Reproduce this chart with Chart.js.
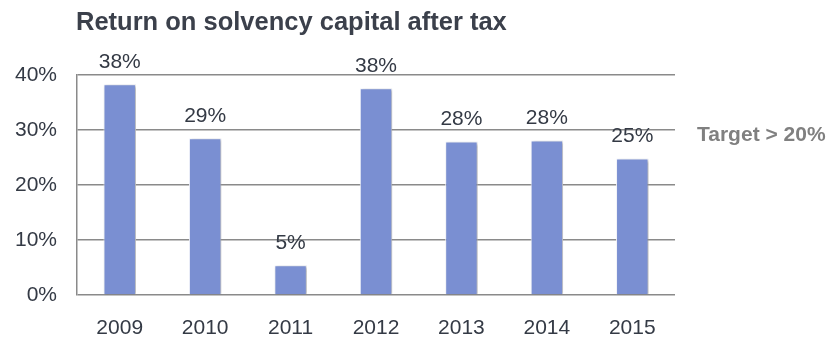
<!DOCTYPE html>
<html>
<head>
<meta charset="utf-8">
<script src="https://cdn.jsdelivr.net/npm/chart.js@4.4.0/dist/chart.umd.min.js"></script>
<style>
  html, body { margin: 0; padding: 0; background: #fff; }
  #wrap { width: 832px; height: 337px; }
</style>
</head>
<body>
<div id="wrap"><canvas id="roscChart" width="832" height="337"></canvas></div>
<script>
const years = ['2009', '2010', '2011', '2012', '2013', '2014', '2015'];
const rosc = [38.3, 28.5, 5.4, 37.6, 27.9, 28.1, 24.8];
const yTicks = [0, 10, 20, 30, 40];

const chartTitle = 'Return on solvency capital after tax';
const targetNote = 'Target > 20%';

const FONT = '"Liberation Sans", Arial, sans-serif';

// title, target note and value labels
const textPlugin = {
    id: 'roscText',
    afterDatasetsDraw(chart) {
        const ctx = chart.ctx;
        const area = chart.chartArea;
        const meta = chart.getDatasetMeta(0);
        ctx.save();
        ctx.shadowColor = 'transparent';
        ctx.font = 'bold 25.5px ' + FONT;
        ctx.fillStyle = '#3b404b';
        ctx.textAlign = 'left';
        ctx.textBaseline = 'middle';
        ctx.fillText(chartTitle, area.left - 1, 23);

        ctx.font = 'bold 21px ' + FONT;
        ctx.fillStyle = '#808080';
        ctx.fillText(targetNote, area.right + 22, 135);

        ctx.font = '21px ' + FONT;
        ctx.fillStyle = '#343a45';
        ctx.textAlign = 'center';
        meta.data.forEach((bar, i) => {
            ctx.fillText(Math.round(rosc[i]) + '%', bar.x, bar.y - 22);
        });
        ctx.restore();
    }
};

// soft shadow behind the bars
const shadowPlugin = {
    id: 'barShadow',
    beforeDatasetDraw(chart) {
        const ctx = chart.ctx;
        ctx.save();
        ctx.shadowColor = 'rgba(0,0,0,0.3)';
        ctx.shadowBlur = 3;
        ctx.shadowOffsetX = 2;
        ctx.shadowOffsetY = 1;
    },
    afterDatasetDraw(chart) {
        chart.ctx.restore();
    }
};

new Chart(document.getElementById('roscChart'), {
    type: 'bar',
    data: {
        labels: years,
        datasets: [{
            data: rosc,
            backgroundColor: '#7a8fd2',
            borderColor: '#f4f6fc',
            borderWidth: 1,
            categoryPercentage: 1,
            barPercentage: 0.38
        }]
    },
    options: {
        responsive: false,
        animation: false,
        devicePixelRatio: 1,
        layout: {
            padding: { top: 75, right: 157, left: 0, bottom: 0 }
        },
        plugins: {
            legend: { display: false },
            tooltip: { enabled: false }
        },
        scales: {
            x: {
                grid: { display: false, drawTicks: false },
                border: { display: false },
                ticks: {
                    padding: 21,
                    color: '#343a45',
                    font: { family: FONT, size: 21 }
                },
                afterFit(scale) { scale.height = 42; }
            },
            y: {
                min: 0,
                max: 40,
                afterBuildTicks(scale) {
                    scale.ticks = yTicks.map(v => ({ value: v }));
                },
                grid: {
                    color: '#8a8a8a',
                    lineWidth: 1.5,
                    drawTicks: false
                },
                border: { display: true, color: '#8a8a8a', width: 1.5 },
                ticks: {
                    padding: 20,
                    color: '#343a45',
                    font: { family: FONT, size: 21 },
                    callback: v => v + '%'
                },
                afterFit(scale) { scale.width = 77; }
            }
        }
    },
    plugins: [shadowPlugin, textPlugin]
});
</script>
</body>
</html>
